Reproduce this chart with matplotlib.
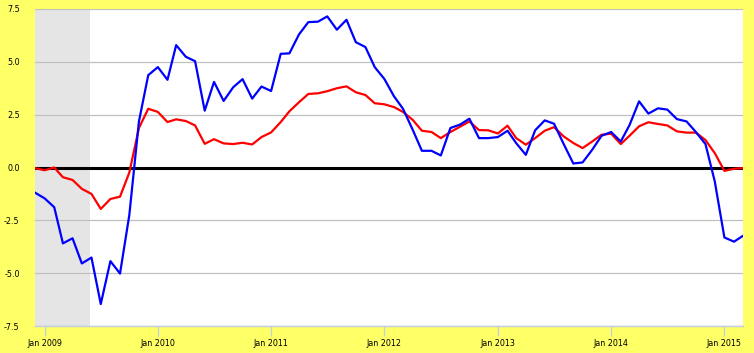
import numpy as np
import pandas as pd
import matplotlib
matplotlib.use('Agg')
import matplotlib.pyplot as plt

# monthly series, Dec 2008 .. Mar 2015
months = pd.date_range('2008-12-01', periods=76, freq='MS')

blue = [-1.19, -1.46, -1.88, -3.59, -3.35, -4.54, -4.26, -6.46, -4.43, -5.02,
        -2.25, 2.18, 4.37, 4.75, 4.15, 5.79, 5.24, 5.03, 2.69, 4.05,
        3.15, 3.80, 4.18, 3.26, 3.83, 3.62, 5.38, 5.40, 6.30, 6.88,
        6.90, 7.15, 6.52, 6.99, 5.93, 5.70, 4.75, 4.19, 3.37, 2.78,
        1.80, 0.79, 0.79, 0.57, 1.87, 2.03, 2.31, 1.39, 1.39, 1.44,
        1.74, 1.15, 0.60, 1.76, 2.23, 2.07, 1.11, 0.19, 0.24, 0.84,
        1.50, 1.68, 1.23, 2.00, 3.13, 2.55, 2.80, 2.74, 2.29, 2.18,
        1.68, 1.11, -0.66, -3.31, -3.51, -3.24]

red = [-0.03, -0.13, 0.00, -0.46, -0.59, -1.01, -1.25, -1.96, -1.49, -1.38,
       -0.24, 1.87, 2.78, 2.63, 2.15, 2.28, 2.20, 1.99, 1.12, 1.34,
       1.14, 1.11, 1.17, 1.09, 1.44, 1.66, 2.15, 2.66, 3.09, 3.48,
       3.51, 3.61, 3.75, 3.84, 3.56, 3.43, 3.04, 2.99, 2.86, 2.63,
       2.26, 1.74, 1.68, 1.39, 1.68, 1.93, 2.18, 1.77, 1.76, 1.61,
       1.98, 1.39, 1.08, 1.39, 1.74, 1.91, 1.47, 1.16, 0.92, 1.23,
       1.55, 1.60, 1.11, 1.50, 1.95, 2.14, 2.06, 1.99, 1.71, 1.65,
       1.65, 1.30, 0.68, -0.16, -0.06, -0.03]

shade_start = pd.Timestamp('2008-12-01')
shade_end = pd.Timestamp('2009-05-27')

yticks = [-7.5, -5.0, -2.5, 0.0, 2.5, 5.0, 7.5]
xtick_years = [2009, 2010, 2011, 2012, 2013, 2014, 2015]

fig = plt.figure(figsize=(7.54, 3.53), dpi=100, facecolor='#ffff66')
ax = fig.add_axes([35/754, 1-326/353, (742.7-35)/754, (326-9)/353])
ax.set_facecolor('white')

ax.axvspan(shade_start, shade_end, color='#e5e5e5', lw=0, zorder=0)
for v in yticks:
    if v != 0:
        ax.axhline(v, color='#c0c0c0', lw=0.9, zorder=1)
ax.axhline(0, color='black', lw=2.2, zorder=2)

ax.plot(months, blue, color='#0000ff', lw=1.6, zorder=4)
ax.plot(months, red, color='#ff0000', lw=1.6, zorder=3)

ax.set_xlim(months[0], months[-1])
ax.set_ylim(-7.5, 7.5)

ax.set_yticks(yticks)
ax.set_yticklabels(['%.1f' % v for v in yticks])
xt = [pd.Timestamp('%d-01-01' % y) for y in xtick_years]
ax.set_xticks(xt)
ax.set_xticklabels(['Jan %d' % y for y in xtick_years])

for s in ['left', 'right', 'top']:
    ax.spines[s].set_visible(False)
ax.spines['bottom'].set_color('#c0d0e0')
ax.spines['bottom'].set_linewidth(1.0)

ax.tick_params(axis='x', length=7.5, width=0.9, color='#c0d0e0', pad=2, labelsize=5.8)
ax.tick_params(axis='y', length=0, pad=11, labelsize=5.8)

fig.savefig('out.png', dpi=100, facecolor=fig.get_facecolor())
